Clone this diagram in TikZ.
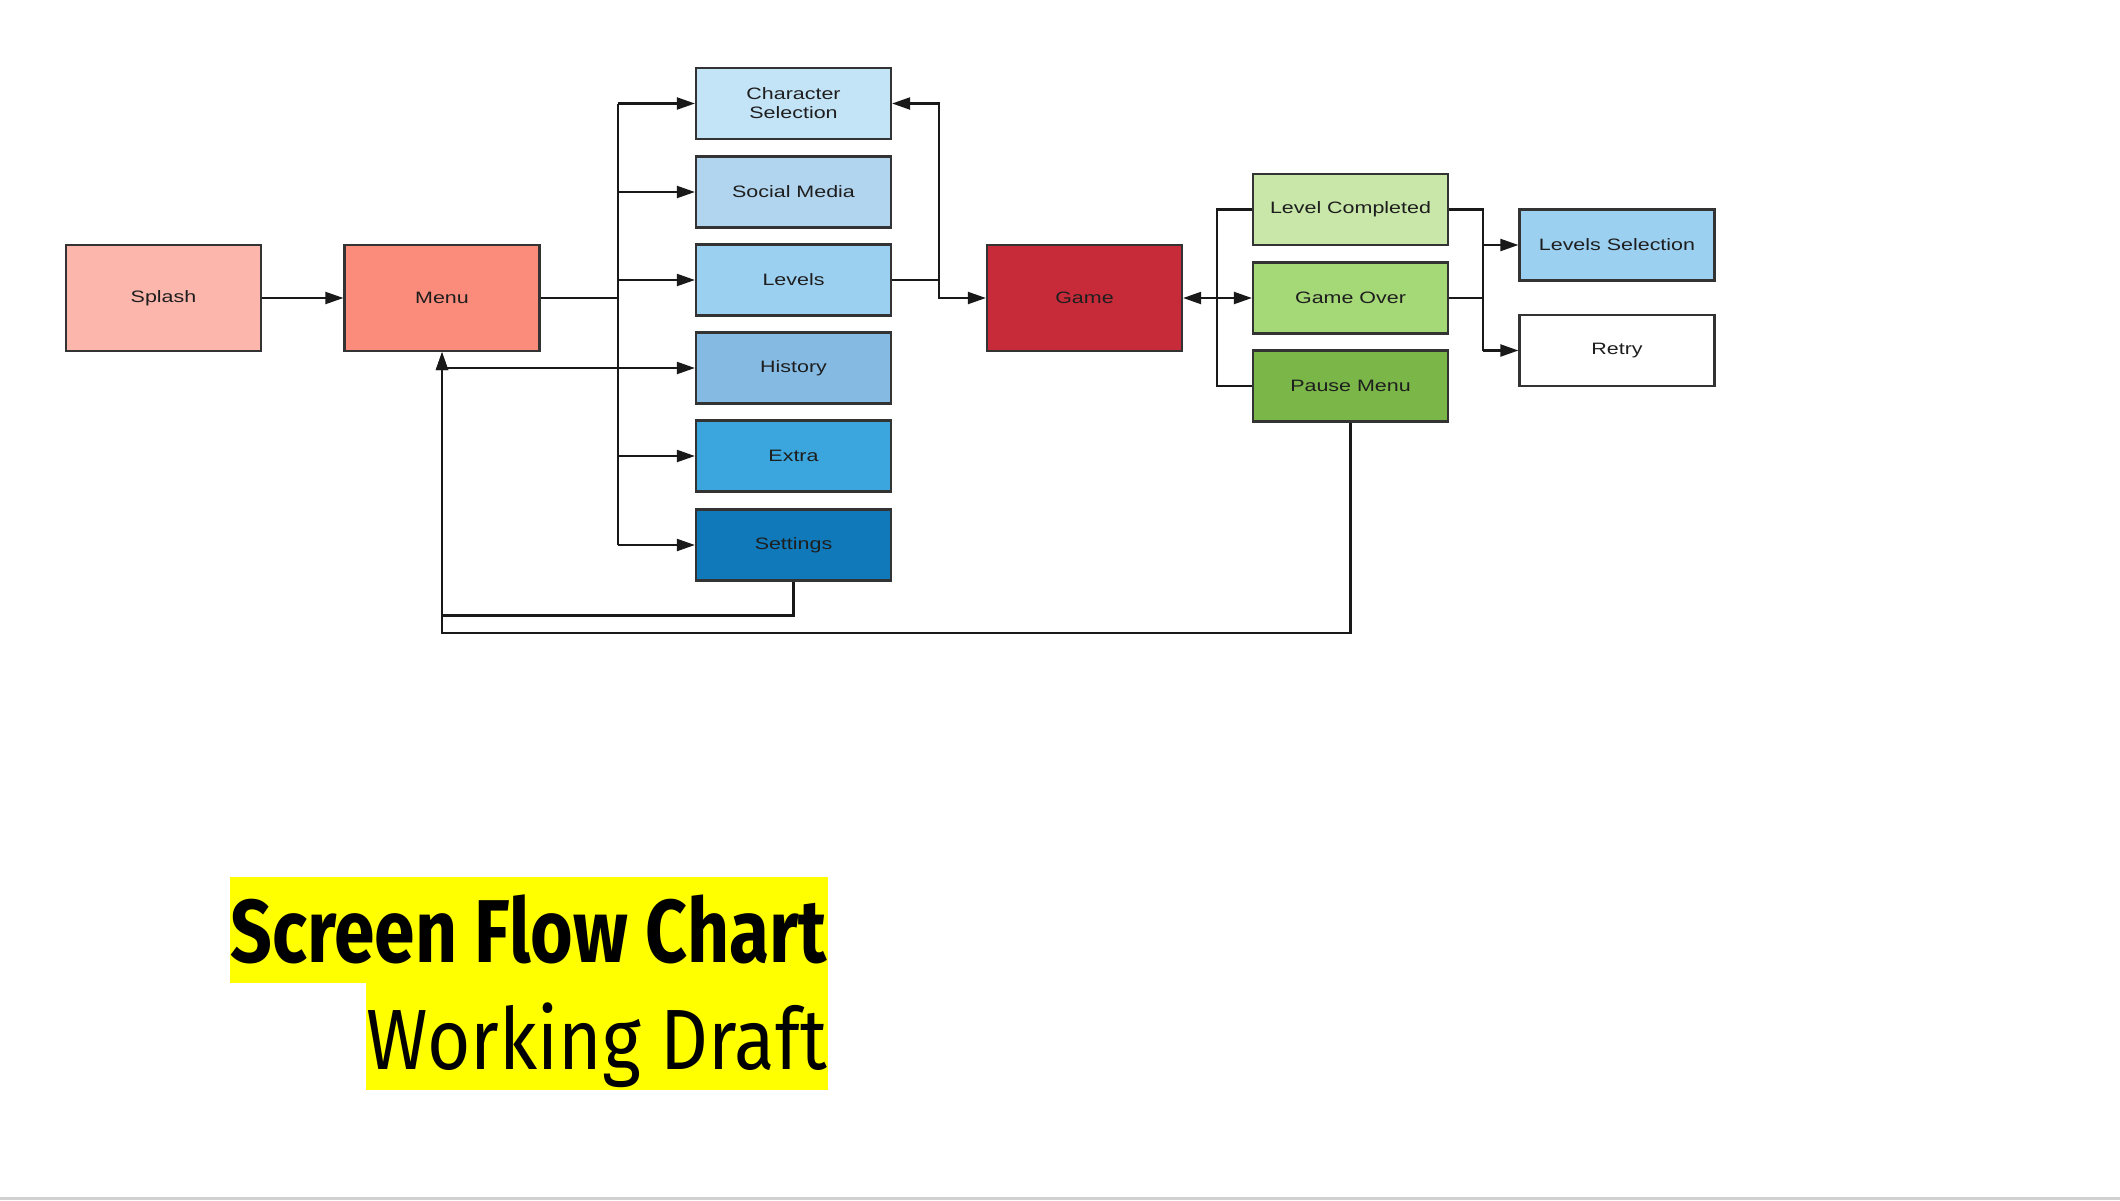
\documentclass[tikz,border=0pt]{standalone}
\usepackage{fontspec}
\setmainfont{Liberation Sans}
\newfontfamily\boxfont[FakeStretch=1.3]{Liberation Sans}
\newfontfamily\titlefont{Fira Sans}
\usetikzlibrary{arrows.meta}
\definecolor{splashc}{HTML}{FCB6AC}
\definecolor{menuc}{HTML}{FB8C7B}
\definecolor{csc}{HTML}{C3E3F6}
\definecolor{smc}{HTML}{B2D5EF}
\definecolor{lvc}{HTML}{9CD0F1}
\definecolor{hic}{HTML}{85BAE3}
\definecolor{exc}{HTML}{3BA6DE}
\definecolor{sec}{HTML}{0F79BA}
\definecolor{gamec}{HTML}{C72B3A}
\definecolor{lcc}{HTML}{C8E7A9}
\definecolor{goc}{HTML}{A5D877}
\definecolor{pmc}{HTML}{7AB648}
\definecolor{lsc}{HTML}{9CD0F1}
\definecolor{edgec}{HTML}{333333}
\definecolor{txtc}{HTML}{1E1E1E}
\definecolor{hlc}{HTML}{FFFF00}
\definecolor{rulec}{HTML}{D0D0D0}
\tikzset{
  box/.style={draw=edgec, line width=2.2pt, minimum width=195pt, minimum height=71pt,
    inner sep=0pt, align=center, text=txtc,
    font=\boxfont\fontsize{16.5}{19}\selectfont},
  bigbox/.style={box, minimum height=106pt},
  conn/.style={draw=black!90, line width=2.1pt},
  tip/.style={-{Triangle[length=18pt,width=12pt]}},
  dtip/.style={{Triangle[length=18pt,width=12pt]}-{Triangle[length=18pt,width=12pt]}}
}
\begin{document}
\begin{tikzpicture}[x=1pt,y=-1pt]
\useasboundingbox (0,0) rectangle (2120,1200);
\fill[white] (0,0) rectangle (2120,1200);
\fill[rulec] (0,1197) rectangle (2120,1200);

% nodes
\node[bigbox, fill=splashc] (splash) at (163.5,298) {Splash};
\node[bigbox, fill=menuc] (menu) at (442,298) {Menu};
\node[box, fill=csc] (cs) at (793.5,103.5) {Character\\Selection};
\node[box, fill=smc] (sm) at (793.5,192) {Social Media};
\node[box, fill=lvc] (lv) at (793.5,280) {Levels};
\node[box, fill=hic] (hi) at (793.5,368) {History};
\node[box, fill=exc] (ex) at (793.5,456) {Extra};
\node[box, fill=sec] (se) at (793.5,545) {Settings};
\node[bigbox, fill=gamec] (game) at (1084.5,298) {Game};
\node[box, fill=lcc] (lc) at (1350.5,209.5) {Level Completed};
\node[box, fill=goc] (go) at (1350.5,298) {Game Over};
\node[box, fill=pmc] (pm) at (1350.5,386) {Pause Menu};
\node[box, fill=lsc] (ls) at (1617,245) {Levels Selection};
\node[box, fill=white] (retry) at (1617,350.5) {Retry};

% helper coordinates
\coordinate (trunk) at (618,298);
\coordinate (rt) at (939,298);
\coordinate (fb1) at (0,615.5);
\coordinate (fb2) at (0,633);
\coordinate (lt) at (1217,298);
\coordinate (rtt) at (1483,298);

% splash -> menu
\draw[conn,tip] (splash.east) -- (menu.west);
% menu -> screens
\draw[conn] (menu.east) -- (trunk);
\draw[conn] (trunk |- cs.west) -- (trunk |- se.west);
\foreach \n in {cs,sm,lv,hi,ex,se}
  \draw[conn,tip] (trunk |- \n.west) -- (\n.west);
\draw[conn] (menu.south |- hi.west) -- (trunk |- hi.west);
% settings back to menu
\draw[conn,tip] (se.south) -- (se.south |- fb1) -| (menu.south);
% pause menu back to menu
\draw[conn,tip] (pm.south) -- (pm.south |- fb2) -| (menu.south);
% levels -> character selection / game
\draw[conn] (lv.east) -- (rt |- lv.east);
\draw[conn,tip] (rt |- lv.east) |- (cs.east);
\draw[conn,tip] (rt |- lv.east) |- (game.west);
% game <-> game over
\draw[conn,dtip] (game.east) -- (go.west);
\draw[conn] (lc.west) -- (lt |- lc.west) -- (lt |- pm.west) -- (pm.west);
% outcomes
\draw[conn] (lc.east) -- (rtt |- lc.east) -- (rtt |- retry.west);
\draw[conn] (go.east) -- (rtt |- go.east);
\draw[conn,tip] (rtt |- ls.west) -- (ls.west);
\draw[conn,tip] (rtt |- retry.west) -- (retry.west);

% title
\fill[hlc] (230,877) rectangle (828,983);
\fill[hlc] (366,983) rectangle (828,1090);
\node[anchor=base east, inner sep=0pt] (title1) at (827,962.7)
  {\resizebox{596pt}{67.7pt}{\titlefont\bfseries Screen Flow Chart}};
\node[anchor=base east, inner sep=0pt] (title2) at (827,1069)
  {\resizebox{460pt}{66.7pt}{\titlefont Working Draft}};
\end{tikzpicture}
\end{document}
